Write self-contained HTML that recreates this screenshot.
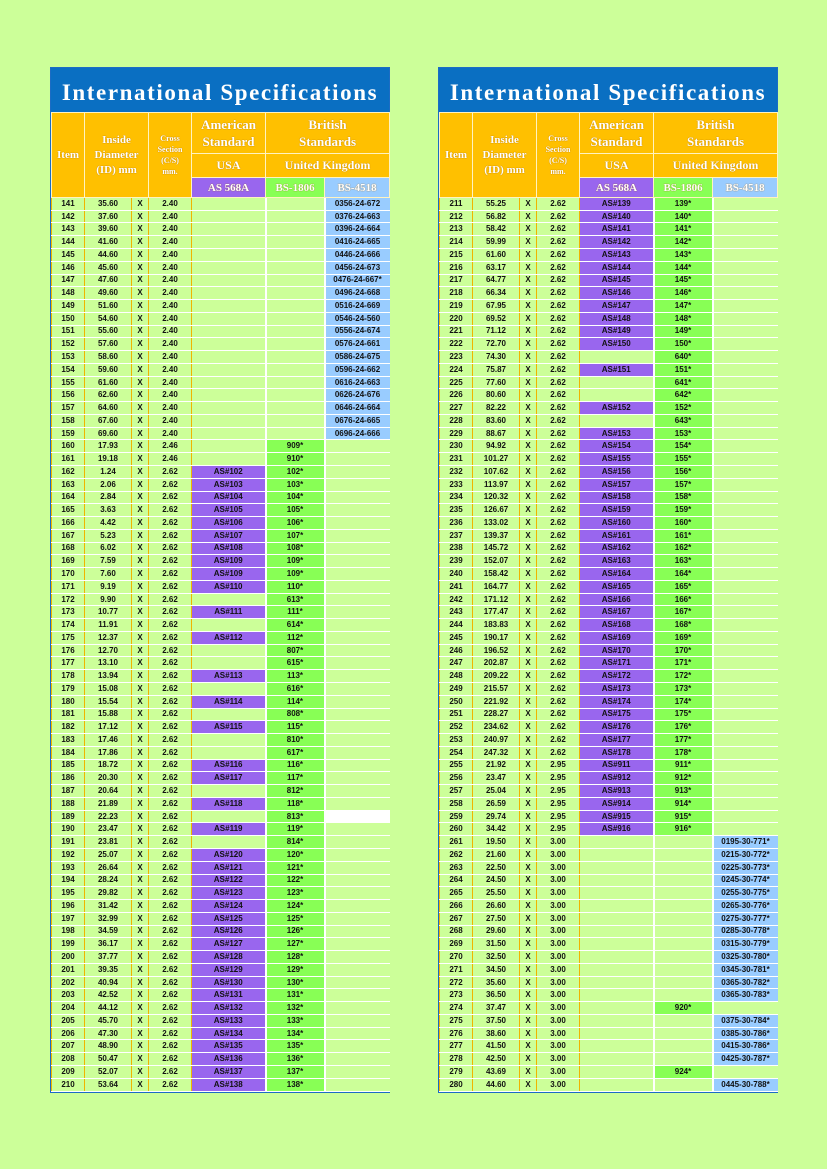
<!DOCTYPE html>
<html><head><meta charset="utf-8"><style>
body{margin:0;width:827px;height:1169px;background:#ccff99;position:relative;overflow:hidden;font-family:"Liberation Sans",sans-serif}
.w{position:absolute;top:67px;width:338px;border:1px solid #1c6cc4;background:#1c6cc4}
.t{height:44px;background:#0a6fc2;color:#fff;font:bold 23px "Liberation Serif",serif;line-height:50px;text-align:center;white-space:nowrap;letter-spacing:1.6px}
table{border-collapse:collapse;table-layout:fixed;width:338px}
.h td{background:#ffc000;color:#fff;font-family:"Liberation Serif",serif;font-weight:bold;text-align:center;border:1px solid #fff3c0;padding:0;text-shadow:0 0 1px #a06000}
.h .p{background:#9966ee}.h .g{background:#88ff55}.h .b{background:#99ccff}
.d{height:894px}
.d td{background:#ccff99;font-size:8px;font-weight:bold;text-align:center;padding:0;border-bottom:1px solid #fff;line-height:10px;color:#111;white-space:nowrap}
.d td:nth-child(-n+4){border-left:1px solid #f0b400;border-right:1px solid #f0b400}
.d td:nth-child(5),.d td:nth-child(6){border-right:2px solid #fff}
.d .p{background:#9966ee}.d .g{background:#88ff55}.d .b{background:#99ccff}.d .x{background:#fff}
</style></head><body>

<div class="w" style="left:50px">
<div class="t">International Specifications</div>
<table class="h"><colgroup><col style="width:33px"><col style="width:47px"><col style="width:17px"><col style="width:43px"><col style="width:74px"><col style="width:59px"><col style="width:65px"></colgroup>
<tr style="height:41px"><td rowspan="3" style="font-size:11px">Item</td><td rowspan="3" colspan="2" style="font-size:11px;line-height:15px">Inside<br>Diameter<br>(ID) mm</td><td rowspan="3" style="font-size:8px;line-height:11px">Cross<br>Section<br>(C/S)<br>mm.</td><td style="font-size:13px;line-height:17px">American<br>Standard</td><td colspan="2" style="font-size:13px;line-height:17px">British<br>Standards</td></tr>
<tr style="height:24px"><td style="font-size:12px">USA</td><td colspan="2" style="font-size:12px">United Kingdom</td></tr>
<tr style="height:20px"><td class="p" style="font-size:11px">AS 568A</td><td class="g" style="font-size:11px">BS-1806</td><td class="b" style="font-size:11px">BS-4518</td></tr>
</table>
<table class="d"><colgroup><col style="width:33px"><col style="width:47px"><col style="width:17px"><col style="width:43px"><col style="width:74px"><col style="width:59px"><col style="width:65px"></colgroup>
<tr><td>141</td><td>35.60</td><td>X</td><td>2.40</td><td></td><td></td><td class="b">0356-24-672</td></tr>
<tr><td>142</td><td>37.60</td><td>X</td><td>2.40</td><td></td><td></td><td class="b">0376-24-663</td></tr>
<tr><td>143</td><td>39.60</td><td>X</td><td>2.40</td><td></td><td></td><td class="b">0396-24-664</td></tr>
<tr><td>144</td><td>41.60</td><td>X</td><td>2.40</td><td></td><td></td><td class="b">0416-24-665</td></tr>
<tr><td>145</td><td>44.60</td><td>X</td><td>2.40</td><td></td><td></td><td class="b">0446-24-666</td></tr>
<tr><td>146</td><td>45.60</td><td>X</td><td>2.40</td><td></td><td></td><td class="b">0456-24-673</td></tr>
<tr><td>147</td><td>47.60</td><td>X</td><td>2.40</td><td></td><td></td><td class="b">0476-24-667*</td></tr>
<tr><td>148</td><td>49.60</td><td>X</td><td>2.40</td><td></td><td></td><td class="b">0496-24-668</td></tr>
<tr><td>149</td><td>51.60</td><td>X</td><td>2.40</td><td></td><td></td><td class="b">0516-24-669</td></tr>
<tr><td>150</td><td>54.60</td><td>X</td><td>2.40</td><td></td><td></td><td class="b">0546-24-560</td></tr>
<tr><td>151</td><td>55.60</td><td>X</td><td>2.40</td><td></td><td></td><td class="b">0556-24-674</td></tr>
<tr><td>152</td><td>57.60</td><td>X</td><td>2.40</td><td></td><td></td><td class="b">0576-24-661</td></tr>
<tr><td>153</td><td>58.60</td><td>X</td><td>2.40</td><td></td><td></td><td class="b">0586-24-675</td></tr>
<tr><td>154</td><td>59.60</td><td>X</td><td>2.40</td><td></td><td></td><td class="b">0596-24-662</td></tr>
<tr><td>155</td><td>61.60</td><td>X</td><td>2.40</td><td></td><td></td><td class="b">0616-24-663</td></tr>
<tr><td>156</td><td>62.60</td><td>X</td><td>2.40</td><td></td><td></td><td class="b">0626-24-676</td></tr>
<tr><td>157</td><td>64.60</td><td>X</td><td>2.40</td><td></td><td></td><td class="b">0646-24-664</td></tr>
<tr><td>158</td><td>67.60</td><td>X</td><td>2.40</td><td></td><td></td><td class="b">0676-24-665</td></tr>
<tr><td>159</td><td>69.60</td><td>X</td><td>2.40</td><td></td><td></td><td class="b">0696-24-666</td></tr>
<tr><td>160</td><td>17.93</td><td>X</td><td>2.46</td><td></td><td class="g">909*</td><td></td></tr>
<tr><td>161</td><td>19.18</td><td>X</td><td>2.46</td><td></td><td class="g">910*</td><td></td></tr>
<tr><td>162</td><td>1.24</td><td>X</td><td>2.62</td><td class="p">AS#102</td><td class="g">102*</td><td></td></tr>
<tr><td>163</td><td>2.06</td><td>X</td><td>2.62</td><td class="p">AS#103</td><td class="g">103*</td><td></td></tr>
<tr><td>164</td><td>2.84</td><td>X</td><td>2.62</td><td class="p">AS#104</td><td class="g">104*</td><td></td></tr>
<tr><td>165</td><td>3.63</td><td>X</td><td>2.62</td><td class="p">AS#105</td><td class="g">105*</td><td></td></tr>
<tr><td>166</td><td>4.42</td><td>X</td><td>2.62</td><td class="p">AS#106</td><td class="g">106*</td><td></td></tr>
<tr><td>167</td><td>5.23</td><td>X</td><td>2.62</td><td class="p">AS#107</td><td class="g">107*</td><td></td></tr>
<tr><td>168</td><td>6.02</td><td>X</td><td>2.62</td><td class="p">AS#108</td><td class="g">108*</td><td></td></tr>
<tr><td>169</td><td>7.59</td><td>X</td><td>2.62</td><td class="p">AS#109</td><td class="g">109*</td><td></td></tr>
<tr><td>170</td><td>7.60</td><td>X</td><td>2.62</td><td class="p">AS#109</td><td class="g">109*</td><td></td></tr>
<tr><td>171</td><td>9.19</td><td>X</td><td>2.62</td><td class="p">AS#110</td><td class="g">110*</td><td></td></tr>
<tr><td>172</td><td>9.90</td><td>X</td><td>2.62</td><td></td><td class="g">613*</td><td></td></tr>
<tr><td>173</td><td>10.77</td><td>X</td><td>2.62</td><td class="p">AS#111</td><td class="g">111*</td><td></td></tr>
<tr><td>174</td><td>11.91</td><td>X</td><td>2.62</td><td></td><td class="g">614*</td><td></td></tr>
<tr><td>175</td><td>12.37</td><td>X</td><td>2.62</td><td class="p">AS#112</td><td class="g">112*</td><td></td></tr>
<tr><td>176</td><td>12.70</td><td>X</td><td>2.62</td><td></td><td class="g">807*</td><td></td></tr>
<tr><td>177</td><td>13.10</td><td>X</td><td>2.62</td><td></td><td class="g">615*</td><td></td></tr>
<tr><td>178</td><td>13.94</td><td>X</td><td>2.62</td><td class="p">AS#113</td><td class="g">113*</td><td></td></tr>
<tr><td>179</td><td>15.08</td><td>X</td><td>2.62</td><td></td><td class="g">616*</td><td></td></tr>
<tr><td>180</td><td>15.54</td><td>X</td><td>2.62</td><td class="p">AS#114</td><td class="g">114*</td><td></td></tr>
<tr><td>181</td><td>15.88</td><td>X</td><td>2.62</td><td></td><td class="g">808*</td><td></td></tr>
<tr><td>182</td><td>17.12</td><td>X</td><td>2.62</td><td class="p">AS#115</td><td class="g">115*</td><td></td></tr>
<tr><td>183</td><td>17.46</td><td>X</td><td>2.62</td><td></td><td class="g">810*</td><td></td></tr>
<tr><td>184</td><td>17.86</td><td>X</td><td>2.62</td><td></td><td class="g">617*</td><td></td></tr>
<tr><td>185</td><td>18.72</td><td>X</td><td>2.62</td><td class="p">AS#116</td><td class="g">116*</td><td></td></tr>
<tr><td>186</td><td>20.30</td><td>X</td><td>2.62</td><td class="p">AS#117</td><td class="g">117*</td><td></td></tr>
<tr><td>187</td><td>20.64</td><td>X</td><td>2.62</td><td></td><td class="g">812*</td><td></td></tr>
<tr><td>188</td><td>21.89</td><td>X</td><td>2.62</td><td class="p">AS#118</td><td class="g">118*</td><td></td></tr>
<tr><td>189</td><td>22.23</td><td>X</td><td>2.62</td><td></td><td class="g">813*</td><td class="x"></td></tr>
<tr><td>190</td><td>23.47</td><td>X</td><td>2.62</td><td class="p">AS#119</td><td class="g">119*</td><td></td></tr>
<tr><td>191</td><td>23.81</td><td>X</td><td>2.62</td><td></td><td class="g">814*</td><td></td></tr>
<tr><td>192</td><td>25.07</td><td>X</td><td>2.62</td><td class="p">AS#120</td><td class="g">120*</td><td></td></tr>
<tr><td>193</td><td>26.64</td><td>X</td><td>2.62</td><td class="p">AS#121</td><td class="g">121*</td><td></td></tr>
<tr><td>194</td><td>28.24</td><td>X</td><td>2.62</td><td class="p">AS#122</td><td class="g">122*</td><td></td></tr>
<tr><td>195</td><td>29.82</td><td>X</td><td>2.62</td><td class="p">AS#123</td><td class="g">123*</td><td></td></tr>
<tr><td>196</td><td>31.42</td><td>X</td><td>2.62</td><td class="p">AS#124</td><td class="g">124*</td><td></td></tr>
<tr><td>197</td><td>32.99</td><td>X</td><td>2.62</td><td class="p">AS#125</td><td class="g">125*</td><td></td></tr>
<tr><td>198</td><td>34.59</td><td>X</td><td>2.62</td><td class="p">AS#126</td><td class="g">126*</td><td></td></tr>
<tr><td>199</td><td>36.17</td><td>X</td><td>2.62</td><td class="p">AS#127</td><td class="g">127*</td><td></td></tr>
<tr><td>200</td><td>37.77</td><td>X</td><td>2.62</td><td class="p">AS#128</td><td class="g">128*</td><td></td></tr>
<tr><td>201</td><td>39.35</td><td>X</td><td>2.62</td><td class="p">AS#129</td><td class="g">129*</td><td></td></tr>
<tr><td>202</td><td>40.94</td><td>X</td><td>2.62</td><td class="p">AS#130</td><td class="g">130*</td><td></td></tr>
<tr><td>203</td><td>42.52</td><td>X</td><td>2.62</td><td class="p">AS#131</td><td class="g">131*</td><td></td></tr>
<tr><td>204</td><td>44.12</td><td>X</td><td>2.62</td><td class="p">AS#132</td><td class="g">132*</td><td></td></tr>
<tr><td>205</td><td>45.70</td><td>X</td><td>2.62</td><td class="p">AS#133</td><td class="g">133*</td><td></td></tr>
<tr><td>206</td><td>47.30</td><td>X</td><td>2.62</td><td class="p">AS#134</td><td class="g">134*</td><td></td></tr>
<tr><td>207</td><td>48.90</td><td>X</td><td>2.62</td><td class="p">AS#135</td><td class="g">135*</td><td></td></tr>
<tr><td>208</td><td>50.47</td><td>X</td><td>2.62</td><td class="p">AS#136</td><td class="g">136*</td><td></td></tr>
<tr><td>209</td><td>52.07</td><td>X</td><td>2.62</td><td class="p">AS#137</td><td class="g">137*</td><td></td></tr>
<tr><td>210</td><td>53.64</td><td>X</td><td>2.62</td><td class="p">AS#138</td><td class="g">138*</td><td></td></tr>
</table>
</div>

<div class="w" style="left:438px">
<div class="t">International Specifications</div>
<table class="h"><colgroup><col style="width:33px"><col style="width:47px"><col style="width:17px"><col style="width:43px"><col style="width:74px"><col style="width:59px"><col style="width:65px"></colgroup>
<tr style="height:41px"><td rowspan="3" style="font-size:11px">Item</td><td rowspan="3" colspan="2" style="font-size:11px;line-height:15px">Inside<br>Diameter<br>(ID) mm</td><td rowspan="3" style="font-size:8px;line-height:11px">Cross<br>Section<br>(C/S)<br>mm.</td><td style="font-size:13px;line-height:17px">American<br>Standard</td><td colspan="2" style="font-size:13px;line-height:17px">British<br>Standards</td></tr>
<tr style="height:24px"><td style="font-size:12px">USA</td><td colspan="2" style="font-size:12px">United Kingdom</td></tr>
<tr style="height:20px"><td class="p" style="font-size:11px">AS 568A</td><td class="g" style="font-size:11px">BS-1806</td><td class="b" style="font-size:11px">BS-4518</td></tr>
</table>
<table class="d"><colgroup><col style="width:33px"><col style="width:47px"><col style="width:17px"><col style="width:43px"><col style="width:74px"><col style="width:59px"><col style="width:65px"></colgroup>
<tr><td>211</td><td>55.25</td><td>X</td><td>2.62</td><td class="p">AS#139</td><td class="g">139*</td><td></td></tr>
<tr><td>212</td><td>56.82</td><td>X</td><td>2.62</td><td class="p">AS#140</td><td class="g">140*</td><td></td></tr>
<tr><td>213</td><td>58.42</td><td>X</td><td>2.62</td><td class="p">AS#141</td><td class="g">141*</td><td></td></tr>
<tr><td>214</td><td>59.99</td><td>X</td><td>2.62</td><td class="p">AS#142</td><td class="g">142*</td><td></td></tr>
<tr><td>215</td><td>61.60</td><td>X</td><td>2.62</td><td class="p">AS#143</td><td class="g">143*</td><td></td></tr>
<tr><td>216</td><td>63.17</td><td>X</td><td>2.62</td><td class="p">AS#144</td><td class="g">144*</td><td></td></tr>
<tr><td>217</td><td>64.77</td><td>X</td><td>2.62</td><td class="p">AS#145</td><td class="g">145*</td><td></td></tr>
<tr><td>218</td><td>66.34</td><td>X</td><td>2.62</td><td class="p">AS#146</td><td class="g">146*</td><td></td></tr>
<tr><td>219</td><td>67.95</td><td>X</td><td>2.62</td><td class="p">AS#147</td><td class="g">147*</td><td></td></tr>
<tr><td>220</td><td>69.52</td><td>X</td><td>2.62</td><td class="p">AS#148</td><td class="g">148*</td><td></td></tr>
<tr><td>221</td><td>71.12</td><td>X</td><td>2.62</td><td class="p">AS#149</td><td class="g">149*</td><td></td></tr>
<tr><td>222</td><td>72.70</td><td>X</td><td>2.62</td><td class="p">AS#150</td><td class="g">150*</td><td></td></tr>
<tr><td>223</td><td>74.30</td><td>X</td><td>2.62</td><td></td><td class="g">640*</td><td></td></tr>
<tr><td>224</td><td>75.87</td><td>X</td><td>2.62</td><td class="p">AS#151</td><td class="g">151*</td><td></td></tr>
<tr><td>225</td><td>77.60</td><td>X</td><td>2.62</td><td></td><td class="g">641*</td><td></td></tr>
<tr><td>226</td><td>80.60</td><td>X</td><td>2.62</td><td></td><td class="g">642*</td><td></td></tr>
<tr><td>227</td><td>82.22</td><td>X</td><td>2.62</td><td class="p">AS#152</td><td class="g">152*</td><td></td></tr>
<tr><td>228</td><td>83.60</td><td>X</td><td>2.62</td><td></td><td class="g">643*</td><td></td></tr>
<tr><td>229</td><td>88.67</td><td>X</td><td>2.62</td><td class="p">AS#153</td><td class="g">153*</td><td></td></tr>
<tr><td>230</td><td>94.92</td><td>X</td><td>2.62</td><td class="p">AS#154</td><td class="g">154*</td><td></td></tr>
<tr><td>231</td><td>101.27</td><td>X</td><td>2.62</td><td class="p">AS#155</td><td class="g">155*</td><td></td></tr>
<tr><td>232</td><td>107.62</td><td>X</td><td>2.62</td><td class="p">AS#156</td><td class="g">156*</td><td></td></tr>
<tr><td>233</td><td>113.97</td><td>X</td><td>2.62</td><td class="p">AS#157</td><td class="g">157*</td><td></td></tr>
<tr><td>234</td><td>120.32</td><td>X</td><td>2.62</td><td class="p">AS#158</td><td class="g">158*</td><td></td></tr>
<tr><td>235</td><td>126.67</td><td>X</td><td>2.62</td><td class="p">AS#159</td><td class="g">159*</td><td></td></tr>
<tr><td>236</td><td>133.02</td><td>X</td><td>2.62</td><td class="p">AS#160</td><td class="g">160*</td><td></td></tr>
<tr><td>237</td><td>139.37</td><td>X</td><td>2.62</td><td class="p">AS#161</td><td class="g">161*</td><td></td></tr>
<tr><td>238</td><td>145.72</td><td>X</td><td>2.62</td><td class="p">AS#162</td><td class="g">162*</td><td></td></tr>
<tr><td>239</td><td>152.07</td><td>X</td><td>2.62</td><td class="p">AS#163</td><td class="g">163*</td><td></td></tr>
<tr><td>240</td><td>158.42</td><td>X</td><td>2.62</td><td class="p">AS#164</td><td class="g">164*</td><td></td></tr>
<tr><td>241</td><td>164.77</td><td>X</td><td>2.62</td><td class="p">AS#165</td><td class="g">165*</td><td></td></tr>
<tr><td>242</td><td>171.12</td><td>X</td><td>2.62</td><td class="p">AS#166</td><td class="g">166*</td><td></td></tr>
<tr><td>243</td><td>177.47</td><td>X</td><td>2.62</td><td class="p">AS#167</td><td class="g">167*</td><td></td></tr>
<tr><td>244</td><td>183.83</td><td>X</td><td>2.62</td><td class="p">AS#168</td><td class="g">168*</td><td></td></tr>
<tr><td>245</td><td>190.17</td><td>X</td><td>2.62</td><td class="p">AS#169</td><td class="g">169*</td><td></td></tr>
<tr><td>246</td><td>196.52</td><td>X</td><td>2.62</td><td class="p">AS#170</td><td class="g">170*</td><td></td></tr>
<tr><td>247</td><td>202.87</td><td>X</td><td>2.62</td><td class="p">AS#171</td><td class="g">171*</td><td></td></tr>
<tr><td>248</td><td>209.22</td><td>X</td><td>2.62</td><td class="p">AS#172</td><td class="g">172*</td><td></td></tr>
<tr><td>249</td><td>215.57</td><td>X</td><td>2.62</td><td class="p">AS#173</td><td class="g">173*</td><td></td></tr>
<tr><td>250</td><td>221.92</td><td>X</td><td>2.62</td><td class="p">AS#174</td><td class="g">174*</td><td></td></tr>
<tr><td>251</td><td>228.27</td><td>X</td><td>2.62</td><td class="p">AS#175</td><td class="g">175*</td><td></td></tr>
<tr><td>252</td><td>234.62</td><td>X</td><td>2.62</td><td class="p">AS#176</td><td class="g">176*</td><td></td></tr>
<tr><td>253</td><td>240.97</td><td>X</td><td>2.62</td><td class="p">AS#177</td><td class="g">177*</td><td></td></tr>
<tr><td>254</td><td>247.32</td><td>X</td><td>2.62</td><td class="p">AS#178</td><td class="g">178*</td><td></td></tr>
<tr><td>255</td><td>21.92</td><td>X</td><td>2.95</td><td class="p">AS#911</td><td class="g">911*</td><td></td></tr>
<tr><td>256</td><td>23.47</td><td>X</td><td>2.95</td><td class="p">AS#912</td><td class="g">912*</td><td></td></tr>
<tr><td>257</td><td>25.04</td><td>X</td><td>2.95</td><td class="p">AS#913</td><td class="g">913*</td><td></td></tr>
<tr><td>258</td><td>26.59</td><td>X</td><td>2.95</td><td class="p">AS#914</td><td class="g">914*</td><td></td></tr>
<tr><td>259</td><td>29.74</td><td>X</td><td>2.95</td><td class="p">AS#915</td><td class="g">915*</td><td></td></tr>
<tr><td>260</td><td>34.42</td><td>X</td><td>2.95</td><td class="p">AS#916</td><td class="g">916*</td><td></td></tr>
<tr><td>261</td><td>19.50</td><td>X</td><td>3.00</td><td></td><td></td><td class="b">0195-30-771*</td></tr>
<tr><td>262</td><td>21.60</td><td>X</td><td>3.00</td><td></td><td></td><td class="b">0215-30-772*</td></tr>
<tr><td>263</td><td>22.50</td><td>X</td><td>3.00</td><td></td><td></td><td class="b">0225-30-773*</td></tr>
<tr><td>264</td><td>24.50</td><td>X</td><td>3.00</td><td></td><td></td><td class="b">0245-30-774*</td></tr>
<tr><td>265</td><td>25.50</td><td>X</td><td>3.00</td><td></td><td></td><td class="b">0255-30-775*</td></tr>
<tr><td>266</td><td>26.60</td><td>X</td><td>3.00</td><td></td><td></td><td class="b">0265-30-776*</td></tr>
<tr><td>267</td><td>27.50</td><td>X</td><td>3.00</td><td></td><td></td><td class="b">0275-30-777*</td></tr>
<tr><td>268</td><td>29.60</td><td>X</td><td>3.00</td><td></td><td></td><td class="b">0285-30-778*</td></tr>
<tr><td>269</td><td>31.50</td><td>X</td><td>3.00</td><td></td><td></td><td class="b">0315-30-779*</td></tr>
<tr><td>270</td><td>32.50</td><td>X</td><td>3.00</td><td></td><td></td><td class="b">0325-30-780*</td></tr>
<tr><td>271</td><td>34.50</td><td>X</td><td>3.00</td><td></td><td></td><td class="b">0345-30-781*</td></tr>
<tr><td>272</td><td>35.60</td><td>X</td><td>3.00</td><td></td><td></td><td class="b">0365-30-782*</td></tr>
<tr><td>273</td><td>36.50</td><td>X</td><td>3.00</td><td></td><td></td><td class="b">0365-30-783*</td></tr>
<tr><td>274</td><td>37.47</td><td>X</td><td>3.00</td><td></td><td class="g">920*</td><td></td></tr>
<tr><td>275</td><td>37.50</td><td>X</td><td>3.00</td><td></td><td></td><td class="b">0375-30-784*</td></tr>
<tr><td>276</td><td>38.60</td><td>X</td><td>3.00</td><td></td><td></td><td class="b">0385-30-786*</td></tr>
<tr><td>277</td><td>41.50</td><td>X</td><td>3.00</td><td></td><td></td><td class="b">0415-30-786*</td></tr>
<tr><td>278</td><td>42.50</td><td>X</td><td>3.00</td><td></td><td></td><td class="b">0425-30-787*</td></tr>
<tr><td>279</td><td>43.69</td><td>X</td><td>3.00</td><td></td><td class="g">924*</td><td></td></tr>
<tr><td>280</td><td>44.60</td><td>X</td><td>3.00</td><td></td><td></td><td class="b">0445-30-788*</td></tr>
</table>
</div>
</body></html>
